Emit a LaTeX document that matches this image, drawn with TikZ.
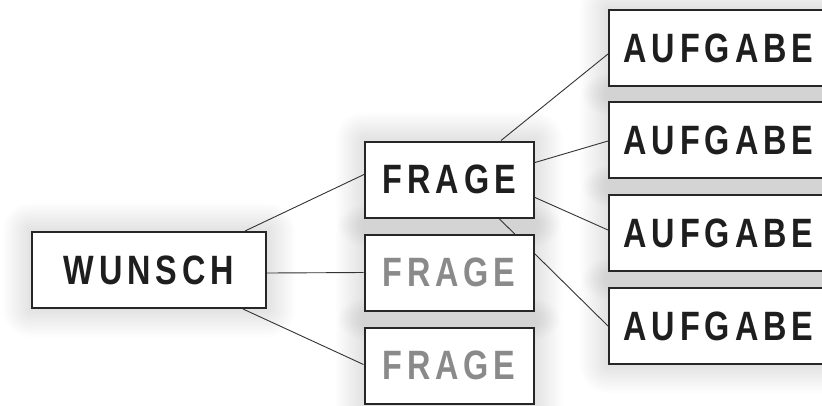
\documentclass[tikz,border=0pt]{standalone}
\usepackage{fontspec}
\newfontfamily\boxfont{Liberation Sans}[FakeStretch=0.79, LetterSpace=12]
\usetikzlibrary{calc}
\pgfdeclarelayer{shadow}
\pgfdeclarelayer{links}
\pgfsetlayers{shadow,links,main}

\definecolor{inkdark}{HTML}{1E1E1E}
\definecolor{inkgrey}{HTML}{8A8A8A}
\definecolor{frame}{HTML}{262626}

\tikzset{
  card/.style={draw=frame, line width=2pt, fill=white, inner sep=0pt,
    minimum width=#1, minimum height=76pt,
    font=\boxfont\bfseries\fontsize{41}{41}\selectfont, text=inkdark},
  card/.default=169pt,
  faded/.style={text=inkgrey},
  link/.style={draw=black!80, line width=0.9pt},
}

% soft glow behind a card
\newcommand\glow[1]{%
  \begin{pgfonlayer}{shadow}
    \foreach \i in {1,...,14}{
      \fill[black, opacity=0.009, rounded corners=2*\i pt]
        ($(#1.south west)+(-2*\i,2*\i)$) rectangle ($(#1.north east)+(2*\i,-2*\i)$);
    }
  \end{pgfonlayer}}

\begin{document}
\begin{tikzpicture}[x=1pt, y=-1pt]
  \useasboundingbox (0,0) rectangle (822,405);
  \clip (0,0) rectangle (822,405);
  \begin{pgfonlayer}{shadow}
    \fill[white] (0,0) rectangle (822,405);
  \end{pgfonlayer}

  % cards
  \node[card=234pt] (w)  at (149,270)   {WUNSCH};
  \node[card]       (f1) at (449.5,179.5) {FRAGE};
  \node[card, faded](f2) at (449,272.5) {FRAGE};
  \node[card, faded](f3) at (449,365.5) {FRAGE};
  \node[card=219pt] (a1) at (718.5,48)  {AUFGABE};
  \node[card=219pt] (a2) at (718.5,140) {AUFGABE};
  \node[card=219pt] (a3) at (718.5,233) {AUFGABE};
  \node[card=219pt] (a4) at (718.5,326) {AUFGABE};

  \foreach \n in {w,f1,f2,f3,a1,a2,a3,a4}{\glow{\n}}

  % connectors
  \begin{pgfonlayer}{links}
    \draw[link] ($(w.north west)+(214,0)$) -- ($(f1.north west)+(0,34)$);
    \draw[link] ($(w.north east)+(0,42)$)  -- ($(f2.north west)+(0,39)$);
    \draw[link] ($(w.south west)+(212,0)$) -- ($(f3.north west)+(0,38)$);
    \draw[link] ($(f1.north west)+(137,0)$) -- ($(a1.north west)+(0,45)$);
    \draw[link] ($(f1.north east)+(0,22)$) -- ($(a2.north west)+(0,40)$);
    \draw[link] ($(f1.north east)+(0,57)$) -- ($(a3.north west)+(0,36)$);
    \draw[link] ($(f1.south west)+(135,0)$) -- ($(a4.north west)+(0,39)$);
  \end{pgfonlayer}
\end{tikzpicture}
\end{document}
